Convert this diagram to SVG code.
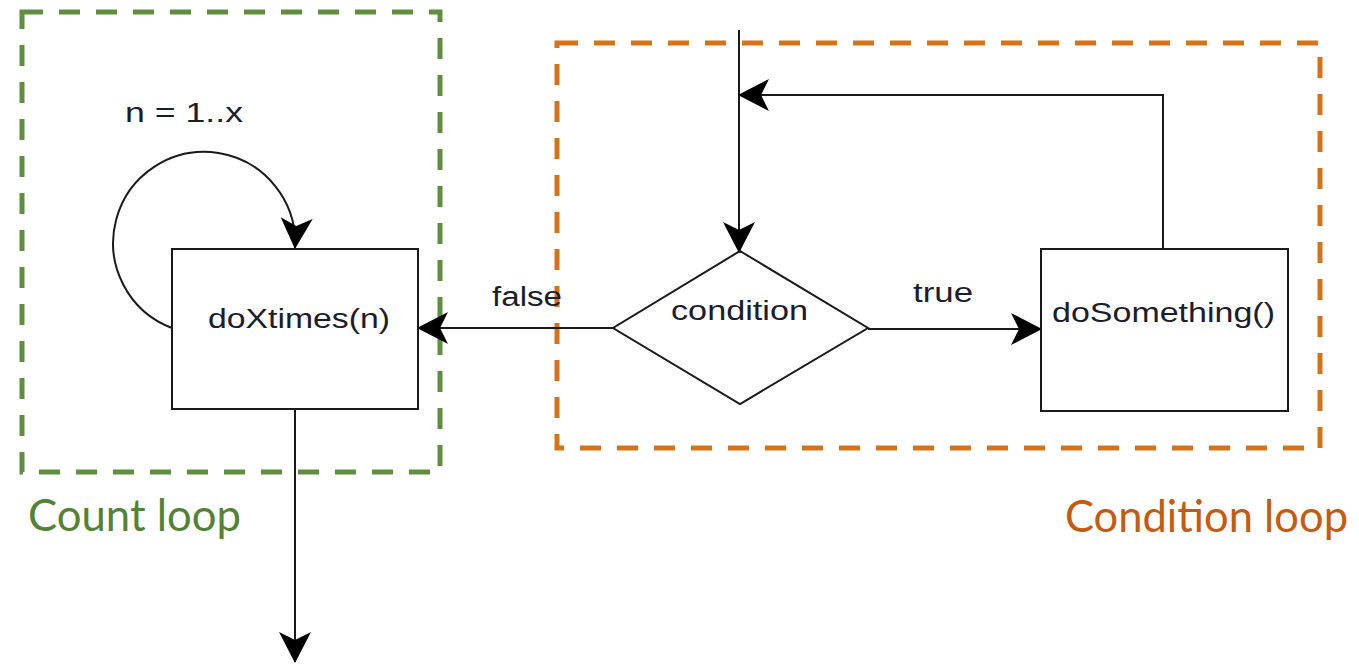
<svg xmlns="http://www.w3.org/2000/svg" width="1359" height="665" viewBox="0 0 1359 665">
  <style>
    .frame-green { fill: none; stroke: #5f8f3e; stroke-width: 5; stroke-dasharray: 21 16; }
    .frame-orange { fill: none; stroke: #d47319; stroke-width: 5; stroke-dasharray: 21 16; }
    .shape { fill: #ffffff; stroke: #1a1a1a; stroke-width: 2; }
    .edge { fill: none; stroke: #1a1a1a; stroke-width: 2; marker-end: url(#arrow); }
    .lbl { font-family: "Liberation Sans", Arial, sans-serif; font-size: 27px; fill: #1c1c2a; }
    .big { font-family: Lato, "Open Sans", sans-serif; font-size: 44px; }
  </style>
  <defs>
    <marker id="arrow" viewBox="0 0 31 32" refX="30" refY="16" markerWidth="31" markerHeight="32" markerUnits="userSpaceOnUse" orient="auto">
      <path d="M0,0 L31,16 L0,32 L8,16 Z" fill="#000000"/>
    </marker>
  </defs>

  <rect width="1359" height="665" fill="#ffffff"/>

  <!-- loop frames -->
  <g id="count-loop-frame">
    <rect class="frame-green" x="22" y="12" width="418" height="460"/>
    <text class="big" x="28" y="531" fill="#548235" textLength="213" lengthAdjust="spacingAndGlyphs">Count loop</text>
  </g>
  <g id="condition-loop-frame">
    <rect class="frame-orange" x="557" y="43" width="763" height="405"/>
    <text class="big" x="1065" y="532" fill="#c55a11" textLength="283" lengthAdjust="spacingAndGlyphs">Condition loop</text>
  </g>

  <!-- connectors -->
  <g id="connectors">
    <path class="edge" d="M172,328 A91,91 0 1 1 295,248"/>
    <text class="lbl" x="125" y="122" textLength="118" lengthAdjust="spacingAndGlyphs">n = 1..x</text>
    <path class="edge" d="M739,30 V252"/>
    <path class="edge" d="M1163,249 V95 H739"/>
    <path class="edge" d="M868,329 H1041"/>
    <text class="lbl" x="913" y="302" textLength="60" lengthAdjust="spacingAndGlyphs">true</text>
    <path class="edge" d="M613,328 H418"/>
    <text class="lbl" x="492" y="306" textLength="70" lengthAdjust="spacingAndGlyphs">false</text>
    <path class="edge" d="M295,409 V662" stroke="#333333"/>
  </g>

  <!-- nodes -->
  <g id="do-x-times">
    <rect class="shape" x="172" y="249" width="246" height="160"/>
    <text class="lbl" x="208" y="328" textLength="182" lengthAdjust="spacingAndGlyphs">doXtimes(n)</text>
  </g>
  <g id="condition">
    <polygon class="shape" points="740,251 868,328 740,404 613,328"/>
    <text class="lbl" x="671" y="320" textLength="137" lengthAdjust="spacingAndGlyphs">condition</text>
  </g>
  <g id="do-something">
    <rect class="shape" x="1041" y="249" width="247" height="162"/>
    <text class="lbl" x="1052" y="322" textLength="223" lengthAdjust="spacingAndGlyphs">doSomething()</text>
  </g>
</svg>
